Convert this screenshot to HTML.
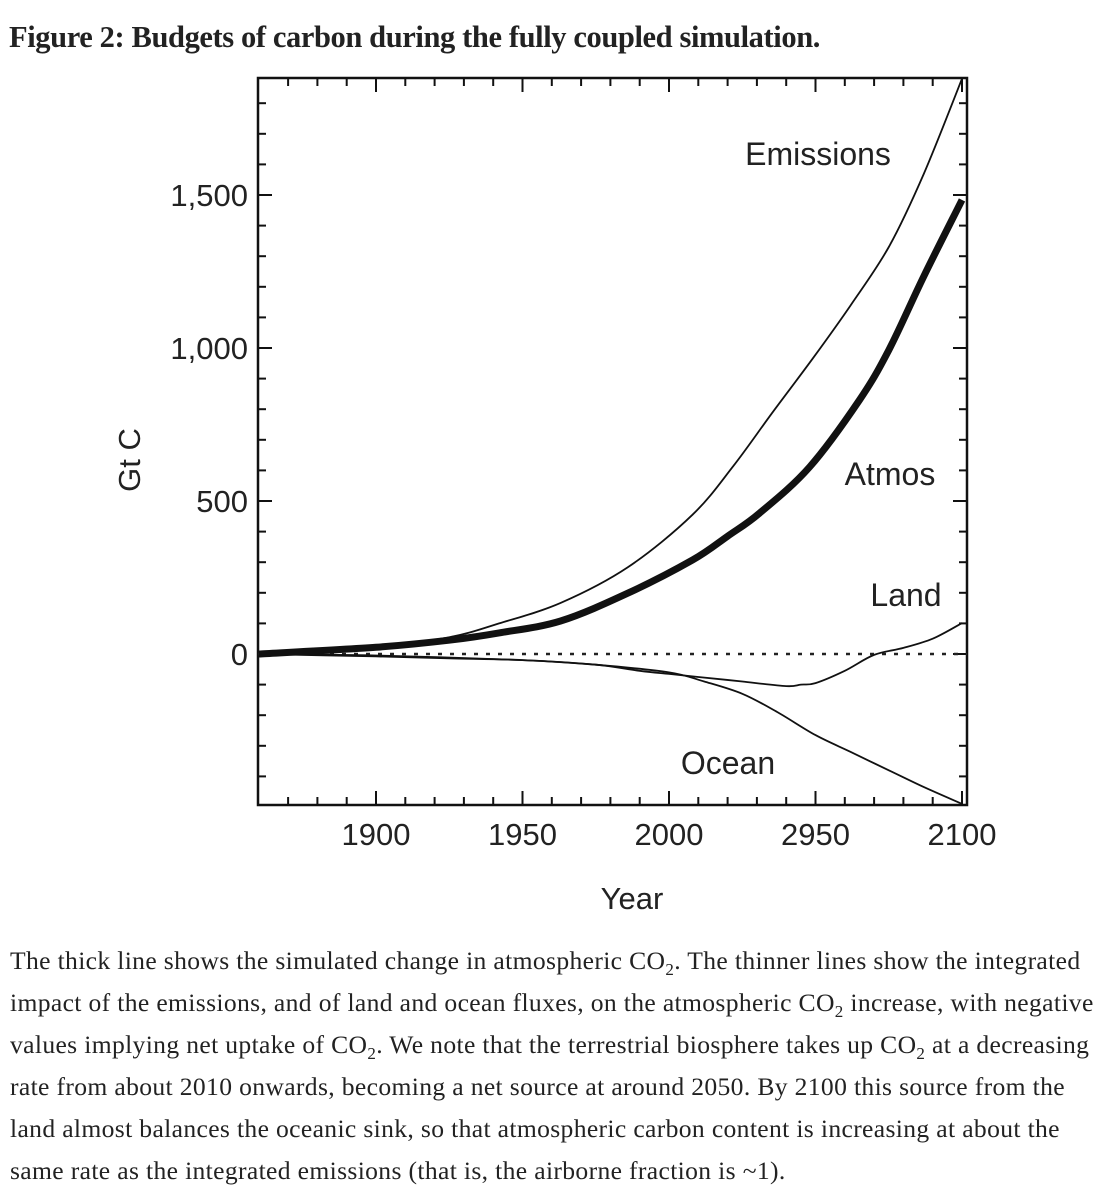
<!DOCTYPE html>
<html><head><meta charset="utf-8"><style>
body{margin:0;background:#fff;width:1110px;height:1198px;overflow:hidden;font-family:"Liberation Serif",serif;}
#title{position:absolute;left:9px;top:20px;font:bold 30.5px "Liberation Serif",serif;color:#222;letter-spacing:-0.4px}
#caption{position:absolute;left:10px;top:940px;width:1100px;font:25.6px/42px "Liberation Serif",serif;color:#222;white-space:nowrap;letter-spacing:0.35px}
#caption sub{font-size:17px;line-height:0}
svg{position:absolute;left:0;top:0}
</style></head><body>
<div id="title">Figure 2: Budgets of carbon during the fully coupled simulation.</div>
<svg id="chart" width="1110" height="930"></svg>
<div id="caption">The thick line shows the simulated change in atmospheric CO<sub>2</sub>. The thinner lines show the integrated<br>impact of the emissions, and of land and ocean fluxes, on the atmospheric CO<sub>2</sub> increase, with negative<br>values implying net uptake of CO<sub>2</sub>. We note that the terrestrial biosphere takes up CO<sub>2</sub> at a decreasing<br>rate from about 2010 onwards, becoming a net source at around 2050. By 2100 this source from the<br>land almost balances the oceanic sink, so that atmospheric carbon content is increasing at about the<br>same rate as the integrated emissions (that is, the airborne fraction is ~1).</div>
<script>
const years=[1860,1900,1925,1942,1963,1986,2008,2022,2035,2049,2062,2075,2087,2100];
const emissions=[0,25,55,100,167,284,455,615,785,965,1140,1330,1570,1880];
const atmosYears=[1860,1900,1925,1942,1963,1986,2008,2020,2031,2048,2065,2075,2087,2100];
const atmos=[0,22,45,69,108,199,307,385,461,611,830,993,1235,1484];
const landYears=[1860,1900,1950,1975,1990,2000,2010,2025,2040,2045,2050,2060,2070,2080,2090,2100];
const land=[0,-5,-20,-35,-55,-65,-75,-90,-105,-100,-95,-55,-3,20,50,101];
const oceanYears=[1860,1900,1925,1950,1975,2000,2012,2025,2037,2050,2062,2075,2087,2100];
const ocean=[0,-8,-14,-20,-35,-60,-90,-130,-190,-265,-320,-380,-435,-490];
const xTicks=[1900,1950,2000,2050,2100];
const xTickLabels=["1900","1950","2000","2950","2100"];
const yTicks=[0,500,1000,1500];
const yTickLabels=["0","500","1,000","1,500"];
const L=258,R=967,T=78,B=805;
const x=v=>376+(v-1900)*146.5/50;
const y=v=>654-v*153/500;
const s=document.getElementById('chart');const NS='http://www.w3.org/2000/svg';
function mk(t,a,p){const e=document.createElementNS(NS,t);for(const k in a)e.setAttribute(k,a[k]);(p||s).appendChild(e);return e;}
const f=mk('rect',{x:L,y:T,width:R-L,height:B-T,fill:'none',stroke:'#111','stroke-width':2.5});


for(let yr=1870;yr<=2100;yr+=10){const maj=yr%50==0;const len=maj?14:8;const X=x(yr);
 mk('line',{x1:X,x2:X,y1:T,y2:T+len,stroke:'#111','stroke-width':2});
 mk('line',{x1:X,x2:X,y1:B,y2:B-len,stroke:'#111','stroke-width':2});}
for(let v=-400;v<=1800;v+=100){const maj=v%500==0;const len=maj?14:8;const Y=y(v);
 mk('line',{x1:L,x2:L+len,y1:Y,y2:Y,stroke:'#111','stroke-width':2});
 mk('line',{x1:R,x2:R-len,y1:Y,y2:Y,stroke:'#111','stroke-width':2});}
xTicks.forEach((v,i)=>{const t=mk('text',{x:x(v),y:845,'text-anchor':'middle','font-size':31,'font-family':'Liberation Sans, sans-serif',fill:'#222'});t.textContent=xTickLabels[i];

});
yTicks.forEach((v,i)=>{const t=mk('text',{x:248,y:y(v)+11,'text-anchor':'end','font-size':31,'font-family':'Liberation Sans, sans-serif',fill:'#222'});t.textContent=yTickLabels[i];

});
const xt=mk('text',{x:632,y:909,'text-anchor':'middle','font-size':31,'font-family':'Liberation Sans, sans-serif',fill:'#222'});xt.textContent='Year';


const yt=mk('text',{x:0,y:0,transform:'translate(140,460) rotate(-90)','text-anchor':'middle','font-size':31,'font-family':'Liberation Sans, sans-serif',fill:'#222'});yt.textContent='Gt C';


const zl=mk('line',{x1:L,x2:R,y1:y(0),y2:y(0),stroke:'#222','stroke-width':2.5,'stroke-dasharray':'4 8'});


function line(xs,vs,w,name){
 const P=xs.map((a,i)=>[x(a),y(vs[i])]);
 let d='M'+P[0][0].toFixed(1)+','+P[0][1].toFixed(1);
 for(let i=0;i<P.length-1;i++){const p0=P[Math.max(0,i-1)],p1=P[i],p2=P[i+1],p3=P[Math.min(P.length-1,i+2)];
  const c1=[p1[0]+(p2[0]-p0[0])/6,p1[1]+(p2[1]-p0[1])/6],c2=[p2[0]-(p3[0]-p1[0])/6,p2[1]-(p3[1]-p1[1])/6];
  d+=' C'+c1.map(n=>n.toFixed(1)).join(',')+' '+c2.map(n=>n.toFixed(1)).join(',')+' '+p2.map(n=>n.toFixed(1)).join(',');}
 const p=mk('path',{d:d,fill:'none',stroke:'#111','stroke-width':w,'stroke-linejoin':'round'});
 
 }
line(years,emissions,1.8,'emissions-line');
line(oceanYears,ocean,1.8,'ocean-line');
line(landYears,land,1.8,'land-line');
line(atmosYears,atmos,7,'atmos-line');
[['Emissions',818,165,'emissions-label'],['Atmos',890,485,'atmos-label'],['Land',906,606,'land-label'],['Ocean',728,774,'ocean-label']].forEach(a=>{
 const t=mk('text',{x:a[1],y:a[2],'text-anchor':'middle','font-size':32,'font-family':'Liberation Sans, sans-serif',fill:'#222'});t.textContent=a[0];
 
 });
</script>
</body></html>
